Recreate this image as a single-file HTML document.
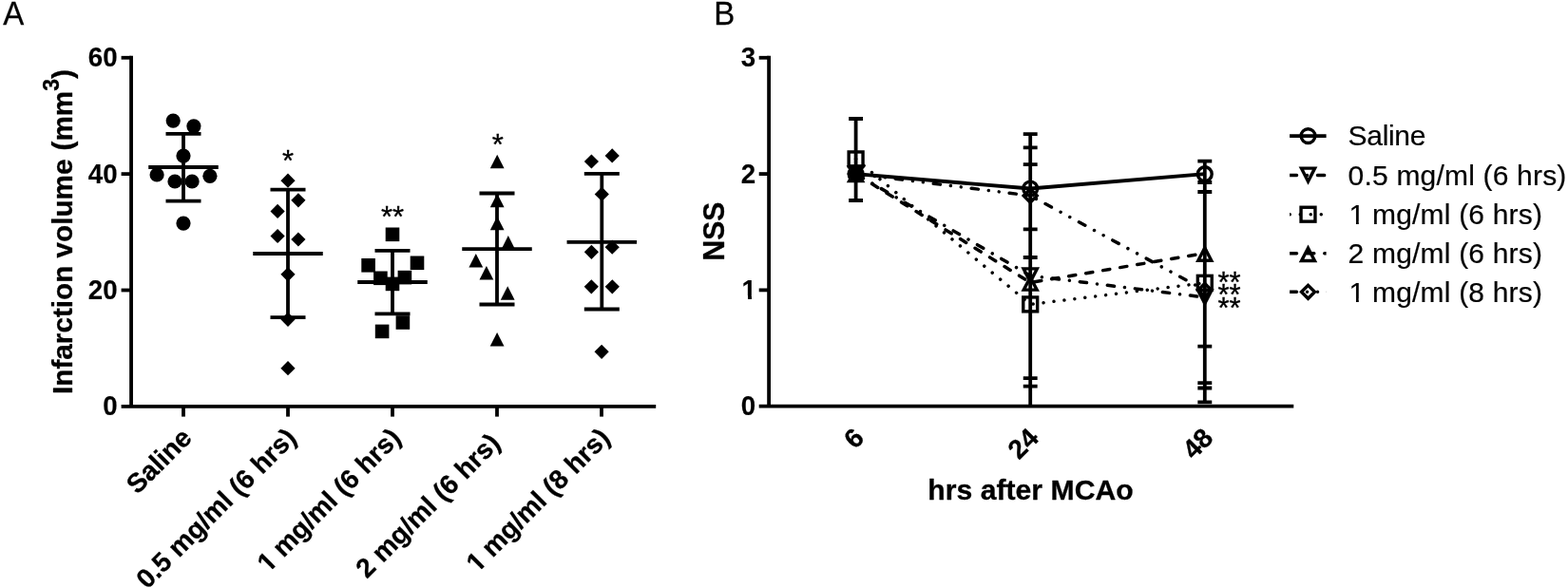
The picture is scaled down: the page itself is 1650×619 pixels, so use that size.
<!DOCTYPE html>
<html><head><meta charset="utf-8"><title>Figure</title>
<style>
html,body{margin:0;padding:0;background:#fff;}
svg{display:block}
text{font-family:"Liberation Sans",sans-serif;fill:#000;}
.r{font-weight:normal;}
.b{font-weight:bold;stroke:#000;stroke-width:0.3px;stroke-linejoin:round;}
.t{stroke-width:0.15px;}
</style></head>
<body><svg width="1650" height="619" viewBox="0 0 1650 619">
<rect width="1650" height="619" fill="#fff"/>
<text transform="translate(3.3,26.3) scale(1,1.04)" class="r" font-size="33" stroke="#000" stroke-width="0.25">A</text>
<path d="M138.07 58.87 V427.85" stroke="#000" stroke-width="3.8" fill="none"/>
<path d="M127.6 427.85 H690.2" stroke="#000" stroke-width="3.8" fill="none"/>
<path d="M127.6 305.49 H138.07" stroke="#000" stroke-width="3.8" fill="none"/>
<path d="M127.6 183.13 H138.07" stroke="#000" stroke-width="3.8" fill="none"/>
<path d="M127.6 60.77 H138.07" stroke="#000" stroke-width="3.8" fill="none"/>
<text transform="translate(123.6,437.45) scale(1,1.04)" text-anchor="end" class="b t" font-size="27.7">0</text>
<text transform="translate(123.6,315.09) scale(1,1.04)" text-anchor="end" class="b t" font-size="27.7">20</text>
<text transform="translate(123.6,192.73) scale(1,1.04)" text-anchor="end" class="b t" font-size="27.7">40</text>
<text transform="translate(123.6,70.37) scale(1,1.04)" text-anchor="end" class="b t" font-size="27.7">60</text>
<path d="M193 427.85 V438.6" stroke="#000" stroke-width="3.8" fill="none"/>
<path d="M303 427.85 V438.6" stroke="#000" stroke-width="3.8" fill="none"/>
<path d="M413 427.85 V438.6" stroke="#000" stroke-width="3.8" fill="none"/>
<path d="M523 427.85 V438.6" stroke="#000" stroke-width="3.8" fill="none"/>
<path d="M633 427.85 V438.6" stroke="#000" stroke-width="3.8" fill="none"/>
<g transform="translate(203.3,462.6) rotate(-45)"><text x="0" text-anchor="end" class="b" font-size="28.2">Saline</text></g>
<g transform="translate(313.3,462.6) rotate(-45)"><text x="0" text-anchor="end" class="b" font-size="28.2">0.5 mg/ml (6 hrs)</text></g>
<g transform="translate(423.3,462.6) rotate(-45)"><text x="-0.9" text-anchor="end" class="b" font-size="28.2"><tspan dx="0.9">1</tspan><tspan dx="-0.9"> mg/ml (6 hrs)</tspan></text><rect x="-198.77" y="-3.83" width="5.61" height="4.78" fill="#fff"/><rect x="-189.00" y="-3.83" width="5.25" height="4.78" fill="#fff"/></g>
<g transform="translate(527.8,468.1) rotate(-45)"><text x="0" text-anchor="end" class="b" font-size="28.2">2 mg/ml (6 hrs)</text></g>
<g transform="translate(643.3,462.6) rotate(-45)"><text x="-0.9" text-anchor="end" class="b" font-size="28.2"><tspan dx="0.9">1</tspan><tspan dx="-0.9"> mg/ml (8 hrs)</tspan></text><rect x="-198.77" y="-3.83" width="5.61" height="4.78" fill="#fff"/><rect x="-189.00" y="-3.83" width="5.25" height="4.78" fill="#fff"/></g>
<text transform="translate(76,244.0) rotate(-90)" text-anchor="middle" class="b" font-size="29.7">Infarction volume<tspan dx="0.8"> (mm</tspan><tspan dy="-14.5" font-size="23">3</tspan><tspan dy="14.5">)</tspan></text>
<path d="M156.25 176.00 H229.75 M174.50 140.80 H211.50 M174.50 211.60 H211.50 M193 140.80 V211.60" stroke="#000" stroke-width="3.8" fill="none"/>
<circle cx="182.2" cy="127.1" r="7.6"/>
<circle cx="203.9" cy="132.8" r="7.6"/>
<circle cx="193" cy="164.1" r="7.6"/>
<circle cx="165.1" cy="184" r="7.6"/>
<circle cx="184" cy="191" r="7.6"/>
<circle cx="202.1" cy="191" r="7.6"/>
<circle cx="220.9" cy="185.3" r="7.6"/>
<circle cx="193" cy="235.1" r="7.6"/>
<path d="M266.25 267.00 H339.75 M284.50 199.60 H321.50 M284.50 334.10 H321.50 M303 199.60 V334.10" stroke="#000" stroke-width="3.8" fill="none"/>
<path d="M295.4 190.2 L303 182.6 L310.6 190.2 L303 197.79999999999998 Z"/>
<path d="M306.29999999999995 210.8 L313.9 203.20000000000002 L321.5 210.8 L313.9 218.4 Z"/>
<path d="M284.5 222.4 L292.1 214.8 L299.70000000000005 222.4 L292.1 230.0 Z"/>
<path d="M284.5 248.5 L292.1 240.9 L299.70000000000005 248.5 L292.1 256.1 Z"/>
<path d="M306.29999999999995 252 L313.9 244.4 L321.5 252 L313.9 259.6 Z"/>
<path d="M295.4 288.8 L303 281.2 L310.6 288.8 L303 296.40000000000003 Z"/>
<path d="M295.4 336.3 L303 328.7 L310.6 336.3 L303 343.90000000000003 Z"/>
<path d="M295.4 387.7 L303 380.09999999999997 L310.6 387.7 L303 395.3 Z"/>
<path d="M376.25 297.00 H449.75 M394.50 263.80 H431.50 M394.50 330.40 H431.50 M413 263.80 V330.40" stroke="#000" stroke-width="3.8" fill="none"/>
<rect x="405.7" y="239.5" width="14.6" height="14.6"/>
<rect x="380.3" y="272.0" width="14.6" height="14.6"/>
<rect x="431.7" y="269.5" width="14.6" height="14.6"/>
<rect x="393.09999999999997" y="285.5" width="14.6" height="14.6"/>
<rect x="418.59999999999997" y="284.8" width="14.6" height="14.6"/>
<rect x="405.7" y="291.59999999999997" width="14.6" height="14.6"/>
<rect x="416.59999999999997" y="332.2" width="14.6" height="14.6"/>
<rect x="394.8" y="341.59999999999997" width="14.6" height="14.6"/>
<path d="M486.25 262.10 H559.75 M504.50 203.50 H541.50 M504.50 320.50 H541.50 M523 203.50 V320.50" stroke="#000" stroke-width="3.8" fill="none"/>
<path d="M515.8000000000001 177.3 L523.2 162.7 L530.6 177.3 Z"/>
<path d="M515.8000000000001 218.3 L523.2 203.7 L530.6 218.3 Z"/>
<path d="M515.8000000000001 242.3 L523.2 227.7 L530.6 242.3 Z"/>
<path d="M527.4 262.7 L534.8 248.1 L542.1999999999999 262.7 Z"/>
<path d="M493.40000000000003 281.5 L500.8 266.9 L508.2 281.5 Z"/>
<path d="M504.5 294.5 L511.9 279.9 L519.3 294.5 Z"/>
<path d="M526.8000000000001 315.8 L534.2 301.2 L541.6 315.8 Z"/>
<path d="M515.7 364.6 L523.1 350.0 L530.5 364.6 Z"/>
<path d="M596.55 254.80 H670.05 M614.80 182.80 H651.80 M614.80 325.50 H651.80 M633.3 182.80 V325.50" stroke="#000" stroke-width="3.8" fill="none"/>
<path d="M614.8 170 L622.4 162.4 L630.0 170 L622.4 177.6 Z"/>
<path d="M636.6 163.9 L644.2 156.3 L651.8000000000001 163.9 L644.2 171.5 Z"/>
<path d="M625.6999999999999 204.4 L633.3 196.8 L640.9 204.4 L633.3 212.0 Z"/>
<path d="M614.8 265.3 L622.4 257.7 L630.0 265.3 L622.4 272.90000000000003 Z"/>
<path d="M636.6 260.2 L644.2 252.6 L651.8000000000001 260.2 L644.2 267.8 Z"/>
<path d="M614.6999999999999 301.8 L622.3 294.2 L629.9 301.8 L622.3 309.40000000000003 Z"/>
<path d="M636.6999999999999 301.8 L644.3 294.2 L651.9 301.8 L644.3 309.40000000000003 Z"/>
<path d="M625.5 370.3 L633.1 362.7 L640.7 370.3 L633.1 377.90000000000003 Z"/>
<text x="303" y="179.7" text-anchor="middle" class="r" font-size="31" stroke="#000" stroke-width="0.35">*</text>
<text x="413" y="238.7" text-anchor="middle" class="r" font-size="31" stroke="#000" stroke-width="0.35">**</text>
<text x="523.7" y="163.2" text-anchor="middle" class="r" font-size="31" stroke="#000" stroke-width="0.35">*</text>
<text transform="translate(751.2,26.3) scale(1,1.04)" class="r" font-size="33" stroke="#000" stroke-width="0.25">B</text>
<path d="M809.1 58.87 V427.7" stroke="#000" stroke-width="3.8" fill="none"/>
<path d="M798.7 427.7 H1361.3" stroke="#000" stroke-width="3.8" fill="none"/>
<path d="M798.7 305.39 H809.1" stroke="#000" stroke-width="3.8" fill="none"/>
<path d="M798.7 183.08 H809.1" stroke="#000" stroke-width="3.8" fill="none"/>
<path d="M798.7 60.77 H809.1" stroke="#000" stroke-width="3.8" fill="none"/>
<g transform="translate(795.1,437.30) scale(1,1.04)"><text text-anchor="end" class="b t" font-size="27.7">0</text></g>
<g transform="translate(795.1,314.99) scale(1,1.04)"><text text-anchor="end" class="b t" font-size="27.7"><tspan dx="0.9">1</tspan></text><rect x="-13.64" y="-3.70" width="5.52" height="4.58" fill="#fff"/><rect x="-4.17" y="-3.70" width="5.17" height="4.58" fill="#fff"/></g>
<g transform="translate(795.1,192.68) scale(1,1.04)"><text text-anchor="end" class="b t" font-size="27.7">2</text></g>
<g transform="translate(795.1,70.37) scale(1,1.04)"><text text-anchor="end" class="b t" font-size="27.7">3</text></g>
<text transform="translate(762.2,243.6) rotate(-90) scale(1,1.03)" text-anchor="middle" class="b" font-size="30.1">NSS</text>
<text x="1084.5" y="526.2" text-anchor="middle" class="b" font-size="30.2">hrs after MCAo</text>
<text transform="translate(910.9,462.6) rotate(-45)" text-anchor="end" class="b" font-size="28.2">6</text>
<text transform="translate(1094.5,462.6) rotate(-45)" text-anchor="end" class="b" font-size="28.2">24</text>
<text transform="translate(1278.1,462.6) rotate(-45)" text-anchor="end" class="b" font-size="28.2">48</text>
<path d="M900.6 125 V211 M893.15 125 H908.0500000000001 M893.15 211 H908.0500000000001" stroke="#000" stroke-width="3.8" fill="none"/>
<path d="M1084.2 141.2 V427.7 M1076.75 141.2 H1091.65 M1076.75 155.3 H1091.65 M1076.75 173.2 H1091.65 M1076.75 241.4 H1091.65 M1076.75 271 H1091.65 M1076.75 398.2 H1091.65 M1076.75 406.7 H1091.65" stroke="#000" stroke-width="3.8" fill="none"/>
<path d="M1267.8 169.6 V423.3 M1260.35 169.6 H1275.25 M1260.35 192 H1275.25 M1260.35 202.0 H1275.25 M1260.35 364.7 H1275.25 M1260.35 403.2 H1275.25 M1260.35 408.5 H1275.25 M1260.35 423.3 H1275.25" stroke="#000" stroke-width="3.8" fill="none"/>
<polyline points="900.6,183.2 1084.2,198.5 1267.8,183.2" stroke="#000" stroke-width="3.8" fill="none" stroke-linejoin="round"/>
<polyline points="900.6,183 1084.2,290.2 1267.8,313" stroke="#000" stroke-width="3.5" fill="none" stroke-linejoin="round" stroke-dasharray="7.26 11.00 0.01 10.99" stroke-dashoffset="-1.75" stroke-linecap="round"/>
<polyline points="900.6,167.4 1084.2,320.4 1267.8,297.8" stroke="#000" stroke-width="3.5" fill="none" stroke-linejoin="round" stroke-dasharray="0.01 10.99" stroke-dashoffset="-0.00" stroke-linecap="round"/>
<polyline points="900.6,183 1084.2,297.5 1267.8,266.6" stroke="#000" stroke-width="3.5" fill="none" stroke-linejoin="round" stroke-dasharray="7.26 11.00" stroke-dashoffset="-1.75" stroke-linecap="round"/>
<polyline points="900.6,183 1084.2,206 1267.8,305.5" stroke="#000" stroke-width="3.5" fill="none" stroke-linejoin="round" stroke-dasharray="7.26 11.00 0.01 10.99 0.01 10.99" stroke-dashoffset="-1.75" stroke-linecap="round"/>
<circle cx="900.6" cy="183.2" r="7.4" fill="none" stroke="#000" stroke-width="3.4"/>
<circle cx="1084.2" cy="198.5" r="7.4" fill="none" stroke="#000" stroke-width="3.4"/>
<circle cx="1267.8" cy="183.2" r="7.4" fill="none" stroke="#000" stroke-width="3.4"/>
<path d="M893.5 175.7 L900.6 189.6 L907.7 175.7 Z" fill="none" stroke="#000" stroke-width="3.4"/>
<path d="M1077.1000000000001 282.9 L1084.2 296.8 L1091.3 282.9 Z" fill="none" stroke="#000" stroke-width="3.4"/>
<path d="M1260.7 305.7 L1267.8 319.6 L1274.8999999999999 305.7 Z" fill="none" stroke="#000" stroke-width="3.4"/>
<rect x="893.15" y="159.95000000000002" width="14.9" height="14.9" fill="none" stroke="#000" stroke-width="3.4"/>
<rect x="1076.75" y="312.95" width="14.9" height="14.9" fill="none" stroke="#000" stroke-width="3.4"/>
<rect x="1260.35" y="290.35" width="14.9" height="14.9" fill="none" stroke="#000" stroke-width="3.4"/>
<path d="M893.65 190.65 L900.6 177.4 L907.5500000000001 190.65 Z" fill="none" stroke="#000" stroke-width="3.4"/>
<path d="M1077.25 305.15 L1084.2 291.9 L1091.15 305.15 Z" fill="none" stroke="#000" stroke-width="3.4"/>
<path d="M1260.85 274.25 L1267.8 261.0 L1274.75 274.25 Z" fill="none" stroke="#000" stroke-width="3.4"/>
<path d="M893.6 183 L900.6 176.0 L907.6 183 L900.6 190.0 Z" fill="none" stroke="#000" stroke-width="3.4"/>
<path d="M1077.2 206 L1084.2 199.0 L1091.2 206 L1084.2 213.0 Z" fill="none" stroke="#000" stroke-width="3.4"/>
<path d="M1260.8 305.5 L1267.8 298.5 L1274.8 305.5 L1267.8 312.5 Z" fill="none" stroke="#000" stroke-width="3.4"/>
<text x="1281.4" y="308.2" text-anchor="start" class="r" font-size="31" stroke="#000" stroke-width="0.35">**</text>
<text x="1281.4" y="321.4" text-anchor="start" class="r" font-size="31" stroke="#000" stroke-width="0.35">**</text>
<text x="1281.4" y="334.5" text-anchor="start" class="r" font-size="31" stroke="#000" stroke-width="0.35">**</text>
<clipPath id="lc"><rect x="1357.1" y="120" width="38.5" height="210"/></clipPath>
<path d="M1355.5 143.1 H1407.6" stroke="#000" stroke-width="3.8" fill="none" clip-path="url(#lc)"/>
<circle cx="1376.5" cy="143.1" r="7.4" fill="none" stroke="#000" stroke-width="3.4"/>
<g transform="translate(1418.6,153.3)"><text class="r" font-size="30" letter-spacing="-0.32" stroke="#000" stroke-width="0.2">Saline</text></g>
<path d="M1355.5 184.4 H1407.6" stroke="#000" stroke-width="3.5" fill="none" clip-path="url(#lc)" stroke-dasharray="7.26 11.00 0.01 10.99" stroke-dashoffset="-1.75" stroke-linecap="round"/>
<path d="M1369.4 177.1 L1376.5 191.0 L1383.6 177.1 Z" fill="none" stroke="#000" stroke-width="3.4"/>
<g transform="translate(1418.6,194.6)"><text class="r" font-size="30" letter-spacing="0.19" stroke="#000" stroke-width="0.2">0.5 mg/ml (6 hrs)</text></g>
<path d="M1355.5 225.7 H1407.6" stroke="#000" stroke-width="3.5" fill="none" clip-path="url(#lc)" stroke-dasharray="0.01 10.99" stroke-dashoffset="-1.75" stroke-linecap="round"/>
<rect x="1369.05" y="218.25" width="14.9" height="14.9" fill="none" stroke="#000" stroke-width="3.4"/>
<g transform="translate(1418.6,235.9)"><text class="r" font-size="30" letter-spacing="0.19" stroke="#000" stroke-width="0.2"><tspan dx="0.9">1</tspan><tspan dx="-0.9"> mg/ml (6 hrs)</tspan></text><rect x="2.29" y="-3.14" width="6.06" height="4.04" fill="#fff"/><rect x="11.20" y="-3.14" width="5.82" height="4.04" fill="#fff"/></g>
<path d="M1355.5 266.8 H1407.6" stroke="#000" stroke-width="3.5" fill="none" clip-path="url(#lc)" stroke-dasharray="7.26 11.00" stroke-dashoffset="-1.75" stroke-linecap="round"/>
<path d="M1369.55 274.45 L1376.5 261.2 L1383.45 274.45 Z" fill="none" stroke="#000" stroke-width="3.4"/>
<g transform="translate(1418.6,277.0)"><text class="r" font-size="30" letter-spacing="0.19" stroke="#000" stroke-width="0.2">2 mg/ml (6 hrs)</text></g>
<path d="M1355.5 307.3 H1407.6" stroke="#000" stroke-width="3.5" fill="none" clip-path="url(#lc)" stroke-dasharray="7.26 11.00 0.01 10.99 0.01 10.99" stroke-dashoffset="-1.75" stroke-linecap="round"/>
<path d="M1369.5 307.3 L1376.5 300.3 L1383.5 307.3 L1376.5 314.3 Z" fill="none" stroke="#000" stroke-width="3.4"/>
<g transform="translate(1418.6,317.5)"><text class="r" font-size="30" letter-spacing="0.19" stroke="#000" stroke-width="0.2"><tspan dx="0.9">1</tspan><tspan dx="-0.9"> mg/ml (8 hrs)</tspan></text><rect x="2.29" y="-3.14" width="6.06" height="4.04" fill="#fff"/><rect x="11.20" y="-3.14" width="5.82" height="4.04" fill="#fff"/></g>
</svg></body></html>
